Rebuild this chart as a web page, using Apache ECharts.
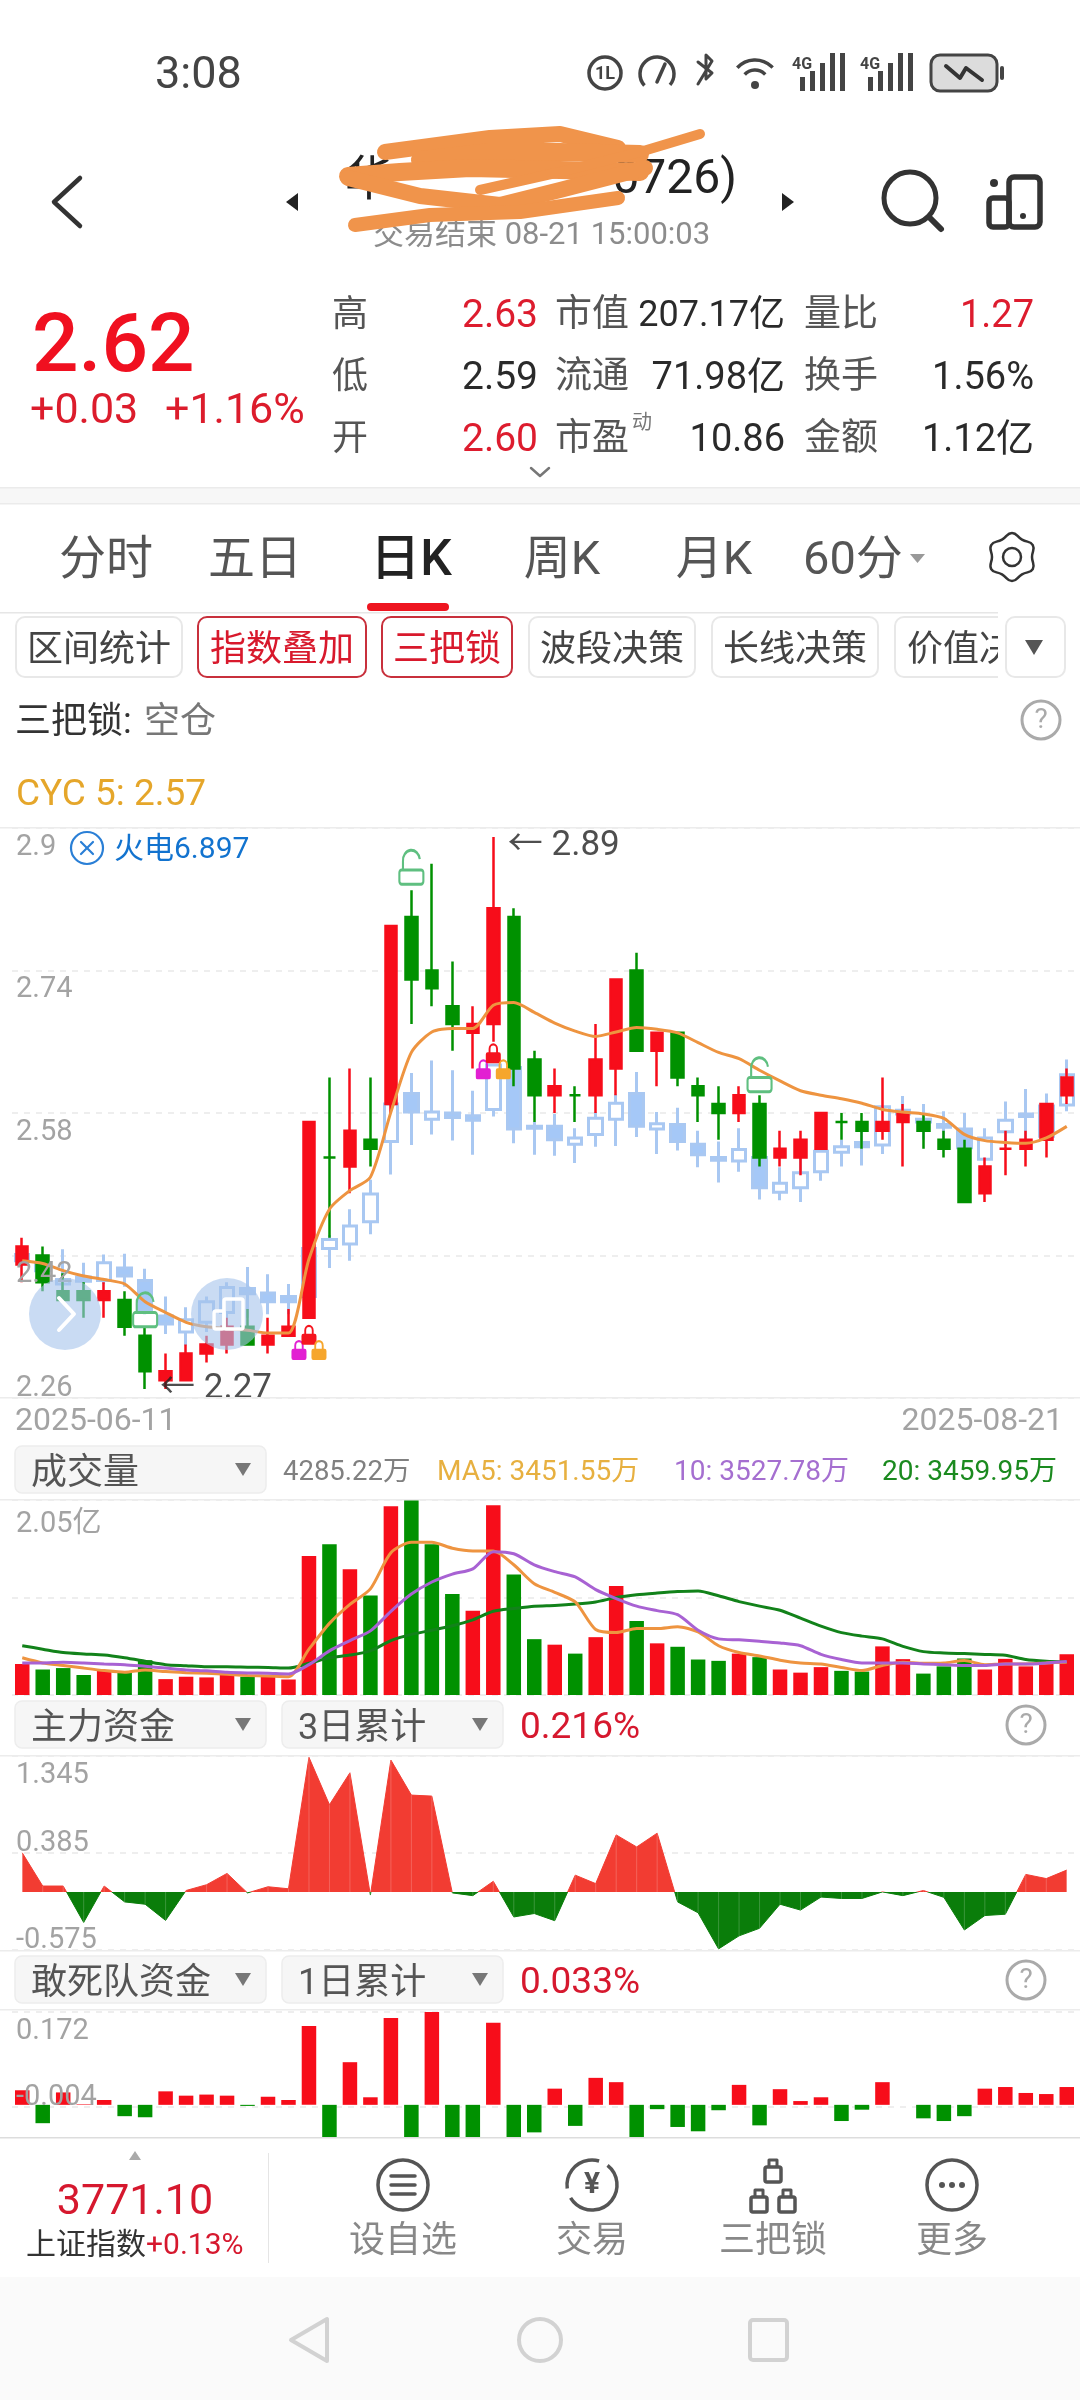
<!DOCTYPE html>
<html>
<head>
<meta charset="utf-8">
<title>K</title>
<style>
html,body{margin:0;padding:0;background:#fff}
#main{width:1080px;height:2400px}
</style>
<script src="https://cdn.jsdelivr.net/npm/echarts@6/dist/echarts.min.js"></script>
</head>
<body>
<div id="main"></div>
<script>
var dates = ['2025-06-11','2025-06-12','2025-06-13','2025-06-16','2025-06-17','2025-06-18','2025-06-19','2025-06-20','2025-06-23','2025-06-24','2025-06-25','2025-06-26','2025-06-27','2025-06-30','2025-07-01','2025-07-02','2025-07-03','2025-07-04','2025-07-07','2025-07-08','2025-07-09','2025-07-10','2025-07-11','2025-07-14','2025-07-15','2025-07-16','2025-07-17','2025-07-18','2025-07-21','2025-07-22','2025-07-23','2025-07-24','2025-07-25','2025-07-28','2025-07-29','2025-07-30','2025-07-31','2025-08-01','2025-08-04','2025-08-05','2025-08-06','2025-08-07','2025-08-08','2025-08-11','2025-08-12','2025-08-13','2025-08-14','2025-08-15','2025-08-18','2025-08-19','2025-08-20','2025-08-21']

// daily candles
var candleOpen = [2.41,2.42,2.38,2.38,2.37,2.37,2.33,2.28,2.28,2.31,2.32,2.34,2.32,2.33,2.35,2.53,2.52,2.55,2.59,2.80,2.74,2.70,2.67,2.68,2.80,2.64,2.60,2.60,2.60,2.63,2.74,2.65,2.67,2.61,2.59,2.58,2.59,2.53,2.53,2.54,2.57,2.57,2.56,2.57,2.57,2.55,2.54,2.49,2.54,2.54,2.55,2.60]
var candleClose = [2.43,2.39,2.37,2.37,2.38,2.34,2.29,2.29,2.31,2.32,2.34,2.32,2.33,2.34,2.57,2.53,2.56,2.54,2.79,2.73,2.72,2.68,2.68,2.81,2.63,2.60,2.61,2.60,2.64,2.73,2.65,2.67,2.62,2.60,2.58,2.60,2.53,2.54,2.55,2.58,2.57,2.56,2.57,2.58,2.56,2.54,2.48,2.52,2.54,2.55,2.59,2.62]
var candleLow = [2.39,2.38,2.37,2.35,2.35,2.33,2.27,2.27,2.28,2.30,2.31,2.32,2.31,2.33,2.35,2.44,2.49,2.52,2.58,2.68,2.70,2.65,2.63,2.66,2.61,2.57,2.58,2.57,2.58,2.60,2.65,2.61,2.61,2.57,2.55,2.57,2.52,2.52,2.51,2.54,2.55,2.54,2.55,2.52,2.54,2.53,2.48,2.48,2.51,2.52,2.53,2.59]
var candleHigh = [2.44,2.43,2.40,2.39,2.39,2.38,2.34,2.31,2.32,2.33,2.35,2.36,2.35,2.36,2.57,2.62,2.63,2.62,2.79,2.83,2.86,2.75,2.70,2.89,2.81,2.65,2.63,2.61,2.68,2.73,2.76,2.67,2.67,2.62,2.61,2.61,2.60,2.56,2.56,2.58,2.58,2.58,2.62,2.59,2.58,2.56,2.55,2.53,2.56,2.56,2.59,2.63]

// overlaid sector index, already mapped to the price axis
var sectorOpen = [2.421,2.410,2.388,2.396,2.392,2.406,2.392,2.352,2.334,2.345,2.356,2.383,2.378,2.374,2.374,2.428,2.433,2.458,2.548,2.602,2.573,2.580,2.577,2.584,2.631,2.565,2.565,2.545,2.556,2.573,2.602,2.562,2.567,2.545,2.530,2.526,2.530,2.491,2.496,2.514,2.536,2.547,2.544,2.583,2.573,2.567,2.562,2.528,2.559,2.579,2.554,2.589]
var sectorClose = [2.414,2.403,2.393,2.391,2.412,2.397,2.359,2.343,2.348,2.368,2.384,2.377,2.368,2.368,2.428,2.438,2.453,2.489,2.590,2.581,2.581,2.575,2.572,2.634,2.562,2.563,2.550,2.552,2.574,2.591,2.565,2.568,2.548,2.533,2.527,2.539,2.496,2.501,2.513,2.537,2.542,2.542,2.587,2.579,2.570,2.564,2.541,2.552,2.572,2.576,2.588,2.623]
var sectorLow = [2.408,2.399,2.376,2.379,2.388,2.385,2.354,2.332,2.319,2.334,2.341,2.350,2.354,2.354,2.374,2.406,2.414,2.444,2.511,2.544,2.556,2.549,2.533,2.576,2.546,2.533,2.532,2.524,2.542,2.543,2.553,2.534,2.538,2.519,2.502,2.514,2.483,2.482,2.480,2.504,2.520,2.521,2.534,2.575,2.550,2.550,2.539,2.528,2.543,2.550,2.554,2.582]
var sectorHigh = [2.430,2.416,2.427,2.412,2.421,2.422,2.405,2.374,2.362,2.374,2.390,2.407,2.399,2.388,2.428,2.443,2.472,2.505,2.590,2.625,2.639,2.628,2.605,2.634,2.631,2.570,2.579,2.563,2.581,2.601,2.626,2.581,2.586,2.560,2.548,2.563,2.530,2.519,2.530,2.541,2.550,2.560,2.587,2.599,2.590,2.582,2.580,2.563,2.593,2.607,2.602,2.640]

var cyc5 = [2.414,2.411,2.403,2.397,2.393,2.388,2.368,2.356,2.345,2.340,2.338,2.336,2.333,2.333,2.416,2.472,2.493,2.508,2.581,2.648,2.671,2.675,2.675,2.701,2.704,2.693,2.681,2.672,2.666,2.671,2.676,2.674,2.670,2.659,2.648,2.641,2.628,2.616,2.605,2.600,2.596,2.591,2.584,2.581,2.579,2.574,2.556,2.549,2.547,2.546,2.552,2.565]

var lockOpenPts = [[6,2.359],[19,2.856],[36,2.623]]
var lockPinkPts = [[14,2.314],[23,2.629]]
var lockRedPts = [[14,2.331],[23,2.647]]
var lockOrangePts = [[14,2.314],[23,2.629]]
var extremeHigh = [[23,2.89]]
var extremeLow = [[7,2.27]]

// volume in millions of shares
var volume = [32.6,26.8,28.3,21.0,25.4,23.5,36.6,16.7,19.2,18.5,21.7,19.2,19.2,16.3,146.0,158.6,132.2,104.7,198.5,205,158.6,106.1,88.7,199.6,126.8,58.7,52.9,43.5,60.8,114.5,77.9,54.3,50.7,37.3,35.9,43.5,39.8,26.8,23.5,29.3,25.4,24.6,51.1,37.7,22.5,30.1,38.4,26.8,38.0,30.1,33.7,42.85]
var volMa5 = [39.1,33.7,31.1,28.3,25.7,23.9,26.4,24.6,23.5,22.8,21.7,20.6,19.9,19.2,48.2,75.3,95.3,111.6,149.6,160.5,160.5,154.3,151.4,151.4,136.9,117.0,107.9,97.8,68.8,65.6,69.9,69.9,71.7,66.3,51.8,44.6,41.0,36.6,33.7,32.6,29.0,25.7,31.1,34.4,33.3,33.7,36.2,31.9,32.6,32.6,33.7,34.52]
var volMa10 = [33.7,33.7,34.4,33.7,32.6,31.9,30.1,28.3,26.4,25.4,23.9,23.2,22.8,22.1,31.9,46.4,57.2,67.4,88.0,106.1,118.8,127.1,132.6,150.7,148.5,136.9,129.7,124.2,110.8,101.4,93.4,88.7,84.4,68.1,59.0,58.0,56.5,54.7,51.8,42.7,37.3,33.7,33.7,33.7,32.6,31.9,31.1,31.1,32.6,32.6,33.7,35.28]
var volMa20 = [51.8,48.2,44.6,43.1,42.0,39.1,35.5,31.9,30.8,29.7,29.7,29.3,29.0,28.3,33.3,39.1,42.0,46.4,57.2,63.7,68.1,72.8,79.0,88.0,90.9,93.4,94.2,95.6,97.8,102.5,105.4,107.2,108.7,109.4,104.3,98.2,93.4,89.1,80.8,72.4,65.6,61.9,59.0,51.1,45.6,44.2,43.5,42.7,41.7,37.3,35.5,34.6]

var mainFund = [0.387,0.058,0.058,-0.302,0.058,-0.099,-0.122,-0.282,0.014,0.071,0.183,-0.010,0.051,0.031,1.332,0.863,1.179,-0.031,1.305,0.958,0.948,-0.010,-0.037,0.105,-0.248,-0.214,-0.285,0.166,0.082,0.564,0.445,0.581,-0.099,-0.207,-0.564,-0.435,-0.360,-0.122,-0.180,-0.051,-0.065,-0.065,0,-0.037,0.014,-0.054,-0.377,-0.234,-0.221,0.173,0.132,0.216]
var hotFund = [0.027,-0.034,0.023,0.001,0.009,-0.021,-0.023,0.025,0.017,0.019,0.017,-0.002,0.015,0.009,0.146,-0.08,0.079,0.014,0.161,-0.07,0.172,-0.09,-0.075,0.152,-0.10,-0.051,0.030,-0.039,0.050,0.042,-0.085,-0.008,-0.041,-0.049,-0.010,0.037,-0.038,0.029,0.007,0.014,-0.030,-0.009,0.042,0,-0.025,-0.030,-0.021,0.030,0.033,0.022,0.020,0.033]

// tick labels
var priceTicks = [2.26,2.42,2.58,2.74,2.9]
var priceLabels = ['2.26','2.42','2.58','2.74','2.9']
var volTicks = [0,102.5,205]
var volLabels = ['','','2.05亿']
var fundTicks = [-0.575,0.385,1.345]
var fundLabels = ['-0.575','0.385','1.345']
var hotTicks = [-0.004,0.172]
var hotLabels = ['-0.004','0.172']

var RED = '#f70d1a'
var GREEN = '#009100'
var FONT = 'Roboto, "Noto Sans CJK SC", sans-serif'
var GRAY_LABEL = '#a3a3a3'

function isUp(i) {
	if (candleClose[i] != candleOpen[i]) return candleClose[i] > candleOpen[i]
	return i == 0 || candleClose[i] >= candleClose[i - 1]
}

var LOCK_CLOSED = 'path://M3 8V5a5 5 0 0 1 10 0v3h-2V5a3 3 0 0 0-6 0v3zM2 8h12a2 2 0 0 1 2 2v6a2 2 0 0 1-2 2H2a2 2 0 0 1-2-2v-6a2 2 0 0 1 2-2z'
var LOCK_OPEN = 'path://M4 14V8a7 7 0 0 1 14-1.5M3 14h16a2 2 0 0 1 2 2v6a2 2 0 0 1-2 2H3a2 2 0 0 1-2-2v-6a2 2 0 0 1 2-2z'

function ohlc(o, c, l, h) {
	return o.map(function (v, i) { return [v, c[i], l[i], h[i]] })
}

function paneX(idx) {
	return {
		type: 'category', gridIndex: idx, data: dates, boundaryGap: true,
		axisLine: {show: false}, axisTick: {show: false}, splitLine: {show: false},
		axisLabel: {show: false}
	}
}

// two axes per pane: one for grid lines under the marks, one for labels above them
function paneY(idx, min, max, ticks, labels, va, vaMin, vaMax, pad) {
	var back = {
		type: 'value', gridIndex: idx, position: 'left', min: min, max: max, z: 0,
		axisLine: {show: false}, axisLabel: {show: false},
		axisTick: {show: false, customValues: ticks},
		splitLine: {show: true, lineStyle: {color: '#e9e9e9', type: [6, 6], width: 1.5}}
	}
	var front = {
		type: 'value', gridIndex: idx, position: 'left', min: min, max: max, z: 20,
		axisLine: {show: false}, axisTick: {show: false}, splitLine: {show: false},
		axisLabel: {
			show: true, inside: true, margin: 4, color: GRAY_LABEL, fontSize: 29, fontFamily: FONT,
			lineHeight: 19, padding: [pad || 10, 0, 0, 0],
			customValues: ticks, verticalAlign: va, verticalAlignMinLabel: vaMin, verticalAlignMaxLabel: vaMax,
			formatter: function (v) { return labels[ticks.indexOf(v)] }
		}
	}
	return [back, front]
}

function maLine(data, color) {
	return {
		type: 'line', xAxisIndex: 1, yAxisIndex: 2, data: data, z: 5, showSymbol: false, symbol: 'none',
		smooth: 0.25, lineStyle: {color: color, width: 3}, itemStyle: {color: color}
	}
}

function lockSeries(pts, color, dx) {
	return {
		type: 'scatter', xAxisIndex: 0, yAxisIndex: 0, data: pts, z: 6,
		symbol: LOCK_CLOSED, symbolSize: [15, 20], symbolOffset: [dx, 0], itemStyle: {color: color, opacity: 1}
	}
}

function extremeSeries(pts, dist, off) {
	return {
		type: 'scatter', xAxisIndex: 0, yAxisIndex: 0, data: pts, z: 7, symbol: 'circle', symbolSize: 1,
		itemStyle: {color: 'rgba(0,0,0,0)'},
		label: {
			show: true, position: 'right', distance: dist, offset: off, color: '#222', fontSize: 35, fontFamily: FONT,
			formatter: function (p) { return '← ' + p.value[1] }
		}
	}
}

var series = [
	{
		type: 'candlestick', name: '火电', xAxisIndex: 0, yAxisIndex: 0, z: 2, barWidth: 14,
		data: ohlc(sectorOpen, sectorClose, sectorLow, sectorHigh),
		itemStyle: {color: '#ffffff', color0: '#a5c8f7', borderColor: '#a9c8f2', borderColor0: '#a9c8f2', borderWidth: 3}
	},
	{
		type: 'candlestick', name: 'K', xAxisIndex: 0, yAxisIndex: 0, z: 3, barWidth: 12,
		data: ohlc(candleOpen, candleClose, candleLow, candleHigh),
		itemStyle: {color: RED, color0: GREEN, borderColor: RED, borderColor0: GREEN, borderWidth: 2.5}
	},
	{
		type: 'line', name: 'CYC 5', xAxisIndex: 0, yAxisIndex: 0, data: cyc5, z: 5, symbol: 'none',
		smooth: 0.25, lineStyle: {color: '#ee9440', width: 3}
	},
	{
		type: 'scatter', xAxisIndex: 0, yAxisIndex: 0, data: lockOpenPts, z: 6,
		symbol: LOCK_OPEN, symbolSize: [24, 34],
		itemStyle: {color: 'rgba(255,255,255,0)', borderColor: '#5fbf80', borderWidth: 2.5, opacity: 1}
	},
	lockSeries(lockPinkPts, '#e21fd2', -10),
	lockSeries(lockRedPts, '#f5141e', 0),
	lockSeries(lockOrangePts, '#f6a62c', 10),
	extremeSeries(extremeHigh, 14, [0, 9]),
	extremeSeries(extremeLow, 0, [-6, 0]),
	{
		type: 'bar', xAxisIndex: 1, yAxisIndex: 2, data: volume, z: 3, barWidth: 14.5,
		itemStyle: {color: function (p) { return isUp(p.dataIndex) ? RED : GREEN }}
	},
	maLine(volMa20, '#12821a'),
	maLine(volMa5, '#ee9440'),
	maLine(volMa10, '#a862d3'),
	{
		type: 'line', xAxisIndex: 2, yAxisIndex: 4, data: mainFund, z: 3, symbol: 'none',
		lineStyle: {width: 1}, areaStyle: {opacity: 1}
	},
	// the thin pale seams at each point of the area
	{
		type: 'bar', xAxisIndex: 2, yAxisIndex: 4, data: mainFund, z: 4, barWidth: 1,
		itemStyle: {color: 'rgba(255,255,255,0.2)'}
	},
	{
		type: 'bar', xAxisIndex: 3, yAxisIndex: 6, data: hotFund, z: 3, barWidth: 14.5,
		itemStyle: {color: function (p) { return p.value >= 0 ? RED : GREEN }}
	}
]
var FUND_SERIES = series.length - 3

// page furniture around the chart panes
var g = []
function T(x, y, text, size, color, align, weight) {
	g.push({type: 'text', x: x, y: y + 5, z: 100, silent: true, style: {
		text: text, fill: color, fontSize: size, fontFamily: FONT, fontWeight: weight || 'normal',
		align: align || 'left', verticalAlign: 'middle'
	}})
}
function R(x, y, w, h, fill, stroke, r, lw) {
	g.push({type: 'rect', z: 100, silent: true, shape: {x: x, y: y, width: w, height: h, r: r || 0},
		style: {fill: fill || 'none', stroke: stroke || 'none', lineWidth: lw || 0}})
}
function L(pts, color, lw) {
	g.push({type: 'polyline', z: 100, silent: true, shape: {points: pts},
		style: {fill: 'none', stroke: color, lineWidth: lw, lineCap: 'round', lineJoin: 'round'}})
}
function C(x, y, r, fill, stroke, lw) {
	g.push({type: 'circle', z: 100, silent: true, shape: {cx: x, cy: y, r: r},
		style: {fill: fill || 'none', stroke: stroke || 'none', lineWidth: lw || 0}})
}
function P(pts, fill) {
	g.push({type: 'polygon', z: 100, silent: true, shape: {points: pts}, style: {fill: fill}})
}
function help(x, y) {
	C(x, y, 19, null, '#aaaaaa', 3)
	T(x, y - 4, '?', 28, '#aaaaaa', 'center')
}
function combo(x, y, w, h, label, tx) {
	R(x, y, w, h, '#f6f6f6', '#ededed', 7, 1.5)
	T(tx, y + h / 2, label, 36, '#555555')
	P([[x + w - 31, y + 17], [x + w - 15, y + 17], [x + w - 23, y + 30]], '#777777')
}
function chip(x, w, label, on) {
	R(x, 617, w, 60, '#fff', on ? '#c8303c' : '#e8e8e8', 9, 2)
	T(x + w / 2, 647, label, 36, on ? '#d8192c' : '#444444', 'center')
}

// status bar
T(155, 72, '3:08', 45, '#444444')
C(605, 73, 16, null, '#444', 3.5)
T(605, 69, '1L', 18, '#444', 'center', 'bold')
g.push({type: 'arc', z: 100, silent: true, shape: {cx: 657, cy: 74, r: 17, startAngle: 2.4, endAngle: 0.7},
	style: {fill: 'none', stroke: '#444', lineWidth: 3.5}})
L([[657, 82], [665, 64]], '#444', 3.5)
L([[698, 62], [712, 73], [706, 79], [706, 55], [712, 61], [698, 84]], '#444', 3)
g.push({type: 'arc', z: 100, silent: true, shape: {cx: 755, cy: 84, r: 24, startAngle: -2.4, endAngle: -0.75},
	style: {fill: 'none', stroke: '#444', lineWidth: 3.5}})
g.push({type: 'arc', z: 100, silent: true, shape: {cx: 755, cy: 84, r: 14, startAngle: -2.4, endAngle: -0.75},
	style: {fill: 'none', stroke: '#444', lineWidth: 3.5}})
C(755, 85, 4, '#444')
;[792, 860].forEach(function (x) {
	T(x, 60, '4G', 16, '#444', 'left', 'bold')
	;[[8, 14], [18, 20], [28, 28], [38, 38], [48, 38]].forEach(function (b) {
		R(x + b[0], 91 - b[1], 5, b[1], '#444')
	})
})
R(931, 55, 66, 36, '#dcdcdc', '#444', 9, 3)
R(1000, 66, 4, 14, '#444', null, 2)
L([[946, 66], [960, 78], [966, 68], [982, 80]], '#333', 4)

// title, the name is scribbled out in the picture
L([[80, 178], [54, 202], [80, 226]], '#333', 4.5)
P([[298, 193], [298, 211], [286, 202]], '#222')
P([[782, 193], [782, 211], [794, 202]], '#222')
T(345, 178, '华', 48, '#222')
T(737, 176, '0726)', 48, '#222', 'right')
T(373, 231, '交易结束 08-21 15:00:03', 31, '#8c8c8c')
var ORANGE = '#f0944b'
L([[385, 152], [430, 146], [490, 138], [560, 134], [618, 148]], ORANGE, 16)
L([[420, 160], [490, 152], [560, 152], [640, 154]], ORANGE, 18)
L([[348, 176], [400, 172], [470, 168], [560, 170], [640, 172]], ORANGE, 18)
L([[348, 178], [420, 196], [500, 205], [560, 190], [645, 168]], ORANGE, 16)
L([[355, 225], [430, 215], [520, 212], [618, 198]], ORANGE, 14)
L([[480, 190], [560, 172], [640, 152], [700, 134]], ORANGE, 10)
C(910, 198, 26, null, '#333', 5)
L([[929, 217], [941, 229]], '#333', 6)
R(1009, 177, 31, 50, null, '#333', 5, 5.5)
R(989, 198, 20, 29, null, '#333', 4, 5.5)
C(1023, 216, 3, '#333')
C(994, 183, 4, '#333')

// quote block
T(32, 345, '2.62', 82, '#f01020', 'left', 500)
T(30, 407, '+0.03', 43, '#dc1c2c')
T(165, 407, '+1.16%', 43, '#dc1c2c')
var rowY = [312, 374, 436]
var DK = '#2a2a2a', RD = '#dd1c2e', GY = '#555555'
T(332, rowY[0], '高', 36, GY); T(332, rowY[1], '低', 36, GY); T(332, rowY[2], '开', 36, GY)
T(538, rowY[0], '2.63', 39, RD, 'right'); T(538, rowY[1], '2.59', 39, DK, 'right'); T(538, rowY[2], '2.60', 39, RD, 'right')
T(555, rowY[0], '市值', 37, GY); T(555, rowY[1], '流通', 37, GY); T(555, rowY[2], '市盈', 37, GY)
T(632, 419, '动', 20, '#777777')
T(785, rowY[0], '207.17亿', 36, DK, 'right'); T(785, rowY[1], '71.98亿', 38, DK, 'right'); T(785, rowY[2], '10.86', 38, DK, 'right')
T(804, rowY[0], '量比', 37, GY); T(804, rowY[1], '换手', 37, GY); T(804, rowY[2], '金额', 37, GY)
T(1034, rowY[0], '1.27', 38, RD, 'right'); T(1034, rowY[1], '1.56%', 38, DK, 'right'); T(1034, rowY[2], '1.12亿', 38, DK, 'right')
L([[531, 468], [540, 476], [549, 468]], '#777', 2.5)
R(0, 488, 1080, 15, '#f7f7f7')
R(0, 487, 1080, 1.5, '#ebebeb')
R(0, 503, 1080, 1.5, '#ebebeb')

// period tabs
T(106, 557, '分时', 47, '#555', 'center')
T(255, 557, '五日', 47, '#555', 'center')
T(411, 557, '日K', 50, '#222', 'center', 500)
T(562, 557, '周K', 47, '#555', 'center')
T(714, 557, '月K', 47, '#555', 'center')
T(803, 557, '60分', 47, '#555')
P([[910, 554], [925, 554], [917.5, 563]], '#999')
var gear = []
for (var a = 0; a < 12; a++) {
	var rr = a % 2 ? 20 : 24
	gear.push([1012 + rr * Math.sin(a * Math.PI / 6), 557 - rr * Math.cos(a * Math.PI / 6)])
}
g.push({type: 'polygon', z: 100, silent: true, shape: {points: gear, smooth: 0.5},
	style: {fill: 'none', stroke: '#333', lineWidth: 2.5}})
C(1012, 557, 9, null, '#333', 2.5)
R(0, 612, 1080, 1.5, '#e6e6e6')
R(367, 603, 82, 8, '#ee1520', null, 4)

// indicator chips
chip(16, 166, '区间统计')
chip(198, 168, '指数叠加', true)
chip(382, 130, '三把锁', true)
chip(529, 166, '波段决策')
chip(712, 166, '长线决策')
R(895, 617, 150, 60, '#fff', '#e8e8e8', 9, 2)
T(907, 647, '价值决策', 36, '#444')
R(998, 612, 82, 70, '#ffffff')
R(1006, 617, 59, 60, '#fff', '#e8e8e8', 9, 2)
P([[1025, 640], [1043, 640], [1034, 655]], '#555')
T(15, 719, '三把锁:', 36, '#333')
T(144, 719, '空仓', 36, '#777')
help(1041, 720)
T(16, 791, 'CYC 5: 2.57', 37, '#e5a62a')
R(0, 827, 1080, 1.5, '#ececec')
R(0, 1397, 1080, 1.5, '#ececec')
T(15, 1417, dates[0], 32, GRAY_LABEL)
T(1063, 1417, dates[dates.length - 1], 32, GRAY_LABEL, 'right')

// sector tag and the two floating buttons on top of the candles
C(87, 848, 16, '#fff', '#2a7fd6', 2.2)
L([[81, 842], [93, 854]], '#2a7fd6', 2.2)
L([[93, 842], [81, 854]], '#2a7fd6', 2.2)
T(114, 845, '火电6.897', 30, '#1273cf')
C(65, 1314, 36, 'rgba(165,195,235,0.6)')
L([[59, 1298], [74, 1314], [59, 1330]], '#ffffff', 4)
C(227, 1314, 36, 'rgba(165,195,235,0.6)')
R(224, 1299, 19, 30, null, '#fff', 2, 3.5)
R(214, 1311, 10, 18, null, '#fff', 2, 3.5)

// volume header
combo(15, 1446, 251, 47, '成交量', 31)
T(283, 1468, '4285.22万', 27.5, '#808080')
T(437, 1468, 'MA5: 3451.55万', 28, '#e7b040')
T(674, 1468, '10: 3527.78万', 28, '#a56fd0')
T(882, 1468, '20: 3459.95万', 28, '#1b8a1f')
R(0, 1499, 1080, 1.5, '#ececec')

// fund headers
combo(15, 1701, 251, 47, '主力资金', 31)
combo(282, 1701, 221, 47, '3日累计', 298)
T(520, 1724, '0.216%', 37, '#d6182e')
help(1026, 1725)
R(0, 1755, 1080, 1.5, '#ececec')
R(0, 1950, 1080, 1.5, '#ececec')
combo(15, 1956, 251, 47, '敢死队资金', 31)
combo(282, 1956, 221, 47, '1日累计', 298)
T(520, 1979, '0.033%', 37, '#d6182e')
help(1026, 1980)
R(0, 2009, 1080, 1.5, '#ececec')

// bottom bar hides the lower part of the last pane
R(0, 2138, 1080, 140, '#ffffff')
R(0, 2137, 1080, 1.5, '#dddddd')
P([[129, 2160], [141, 2160], [135, 2151]], '#aaaaaa')
T(135, 2198, '3771.10', 43, '#d6182e', 'center')
T(26, 2241, '上证指数', 30, '#333')
T(146, 2241, '+0.13%', 30, '#d6182e')
R(268, 2153, 1, 110, '#e5e5e5')
var navX = [403, 592, 773, 952]
var navTxt = ['设自选', '交易', '三把锁', '更多']
navX.forEach(function (x, i) { T(x, 2238, navTxt[i], 36, '#888888', 'center') })
C(403, 2185, 25, null, '#555', 3.5)
L([[391, 2176], [415, 2176]], '#555', 3.5); L([[391, 2185], [415, 2185]], '#555', 3.5); L([[391, 2194], [415, 2194]], '#555', 3.5)
g.push({type: 'arc', z: 100, silent: true, shape: {cx: 592, cy: 2185, r: 25, startAngle: -0.9, endAngle: 2.6},
	style: {fill: 'none', stroke: '#555', lineWidth: 3.5}})
g.push({type: 'arc', z: 100, silent: true, shape: {cx: 592, cy: 2185, r: 25, startAngle: 3.0, endAngle: 5.0},
	style: {fill: 'none', stroke: '#555', lineWidth: 3.5}})
T(592, 2180, '¥', 30, '#555', 'center', 'bold')
;[[773, 2176], [759, 2206], [787, 2206]].forEach(function (p) {
	R(p[0] - 8, p[1] - 9, 16, 15, null, '#555', 2, 3.5)
	L([[p[0] - 4, p[1] - 10], [p[0] - 4, p[1] - 16], [p[0] + 4, p[1] - 16], [p[0] + 4, p[1] - 10]], '#555', 3)
})
C(952, 2185, 25, null, '#555', 3.5)
C(942, 2185, 3, '#555'); C(952, 2185, 3, '#555'); C(962, 2185, 3, '#555')

// system navigation
R(0, 2277, 1080, 123, '#fafafa')
g.push({type: 'polygon', z: 100, silent: true, shape: {points: [[327, 2319], [327, 2361], [291, 2340]]},
	style: {fill: 'none', stroke: '#d2d2d2', lineWidth: 4, lineJoin: 'round'}})
C(540, 2340, 21, null, '#d2d2d2', 4)
R(750, 2320, 37, 40, null, '#d2d2d2', 3, 4)

var option = {
	animation: false,
	backgroundColor: '#ffffff',
	textStyle: {fontFamily: FONT},
	grid: [
		{left: 12, width: 1065, top: 828, height: 570},
		{left: 12, width: 1065, top: 1500, height: 195},
		{left: 12, width: 1065, top: 1756, height: 194},
		{left: 12, width: 1065, top: 2012, height: 190}
	],
	xAxis: [paneX(0), paneX(1), paneX(2), paneX(3)],
	yAxis: [].concat(
		paneY(0, 2.26, 2.9, priceTicks, priceLabels, 'top', 'bottom', 'top'),
		paneY(1, 0, 205, volTicks, volLabels, 'top', 'top', 'top', 15),
		paneY(2, -0.575, 1.345, fundTicks, fundLabels, 'bottom', 'bottom', 'top'),
		paneY(3, -0.18, 0.172, hotTicks, hotLabels, 'bottom', 'bottom', 'top')
	),
	visualMap: [{
		type: 'piecewise', show: false, seriesIndex: FUND_SERIES, dimension: 1,
		pieces: [{min: -2, max: 0, color: '#0a7d0a'}, {min: 0, max: 2, color: '#f23c32'}]
	}],
	series: series,
	graphic: {elements: g}
}

var chart = echarts.init(document.getElementById('main'), null, {width: 1080, height: 2400})
chart.setOption(option)
</script>
</body>
</html>
